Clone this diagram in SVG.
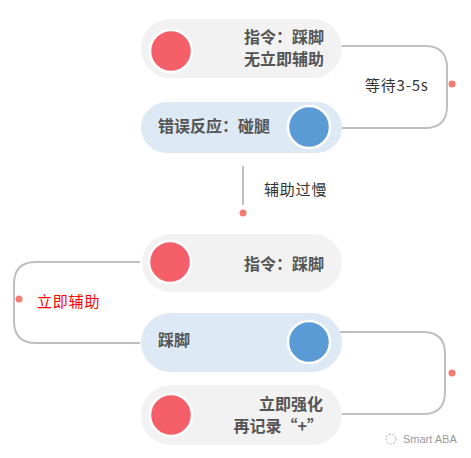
<svg xmlns="http://www.w3.org/2000/svg" width="471" height="458" viewBox="0 0 471 458">
<style>
.pg{fill:#f2f2f2}
.pb{fill:#dde9f5}
.cr{fill:#f55f69;stroke:#fff;stroke-width:2.5}
.cb{fill:#5b9bd5;stroke:#fff;stroke-width:2.5}
.t{font-family:"Noto Sans CJK SC","Liberation Sans",sans-serif;font-size:16px;font-weight:bold;fill:#555}
.l{font-family:"Noto Sans CJK SC","Liberation Sans",sans-serif;font-size:15px;fill:#333;letter-spacing:0.8px}
.c{fill:none;stroke:#bfbfbf;stroke-width:2}
.d{fill:#f47b72}
</style>
<rect width="471" height="458" fill="#fff"/>
<g id="connectors">
<path class="c" d="M337 46 H425 Q447 46 447 68 V106 Q447 128 425 128 H337"/>
<circle class="d" cx="452" cy="84" r="3.5"/>
<text class="l" x="365" y="91">等待3-5s</text>
<path class="c" d="M243 166 V205"/>
<circle class="d" cx="243" cy="213" r="3.5"/>
<text class="l" x="264" y="195">辅助过慢</text>
<path class="c" d="M140 262 H36 Q14 262 14 284 V321 Q14 343 36 343 H140"/>
<circle class="d" cx="19" cy="299" r="3.5"/>
<text class="l" x="37" y="307" style="fill:#f00">立即辅助</text>
<path class="c" d="M337 332 H423 Q445 332 445 354 V392 Q445 414 423 414 H337"/>
<circle class="d" cx="452" cy="373" r="3.5"/>
</g>
<g id="node1">
<rect class="pg" x="141" y="19" width="201" height="59" rx="29.5"/>
<circle class="cr" cx="171" cy="51" r="21"/>
<text class="t" x="324" y="43" text-anchor="end">指令：踩脚</text>
<text class="t" x="324" y="65" text-anchor="end">无立即辅助</text>
</g>
<g id="node2">
<rect class="pb" x="141" y="102" width="201" height="51" rx="25.5"/>
<circle class="cb" cx="309" cy="127" r="21"/>
<text class="t" x="158" y="132">错误反应：碰腿</text>
</g>
<g id="node3">
<rect class="pg" x="142" y="234" width="200" height="58" rx="29"/>
<circle class="cr" cx="170" cy="262" r="21"/>
<text class="t" x="324" y="270" text-anchor="end">指令：踩脚</text>
</g>
<g id="node4">
<rect class="pb" x="141" y="313" width="201" height="59" rx="29.5"/>
<circle class="cb" cx="309" cy="342" r="21"/>
<text class="t" x="158" y="346">踩脚</text>
</g>
<g id="node5">
<rect class="pg" x="141" y="385" width="201" height="60" rx="30"/>
<circle class="cr" cx="171" cy="415" r="21"/>
<text class="t" x="323" y="410" text-anchor="end">立即强化</text>
<text class="t" x="323" y="432" text-anchor="end">再记录“+”</text>
</g>
<g id="watermark">
<circle cx="391" cy="439" r="5" fill="none" stroke="#aaa" stroke-width="1" stroke-dasharray="2 1.5"/>
<text x="403" y="443" style="font-family:'Liberation Sans',sans-serif;font-size:11px;fill:#999">Smart ABA</text>
</g>
</svg>
